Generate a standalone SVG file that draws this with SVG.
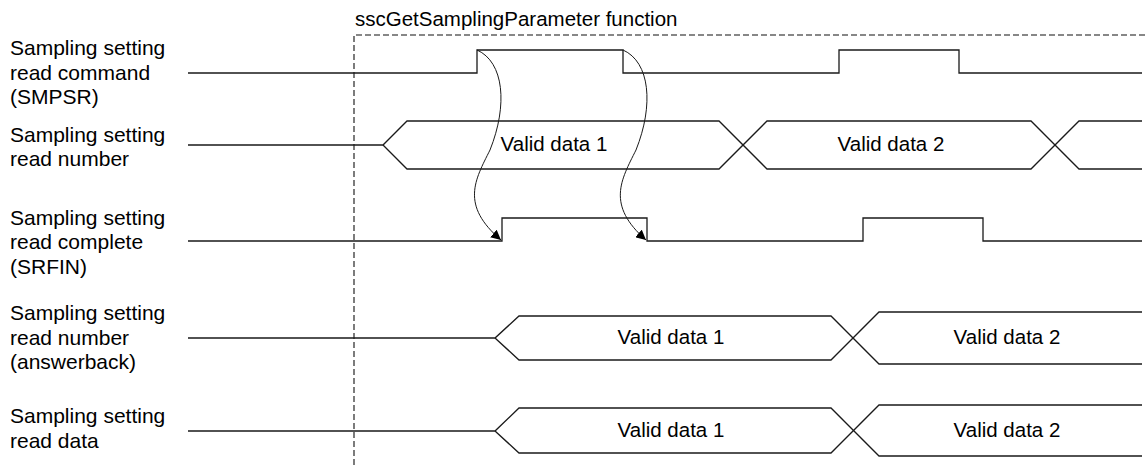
<svg xmlns="http://www.w3.org/2000/svg" width="1148" height="465" viewBox="0 0 1148 465">
<style>
text{font-family:"Liberation Sans",Arial,sans-serif;font-size:21px;fill:#000}
.d{font-size:20.5px}
.sig{fill:none;stroke:#1a1a1a;stroke-width:1.3}
.dash{fill:none;stroke:#111;stroke-width:1.1;stroke-dasharray:6 3}
.arr{fill:none;stroke:#1a1a1a;stroke-width:1}
</style>
<defs>
<marker id="ah" viewBox="0 0 10 10" refX="10" refY="5" markerWidth="10" markerHeight="10" markerUnits="userSpaceOnUse" orient="auto">
<path d="M0,0 L10,5 L0,10 z" fill="#000"/>
</marker>
</defs>
<g id="frame">
<text x="355" y="26" class="d">sscGetSamplingParameter function</text>
<path class="dash" d="M354,465 V35 H1146"/>
</g>
<g id="row1">
<text x="10" y="55">Sampling setting</text>
<text x="10" y="79.5">read command</text>
<text x="10" y="104">(SMPSR)</text>
<path class="sig" d="M188,73 H477 V50 H623 V73 H839 V50 H959 V73 H1142"/>
</g>
<g id="row2">
<text x="10" y="141.5">Sampling setting</text>
<text x="10" y="166">read number</text>
<path class="sig" d="M188,145 H383 L407,121 H719 L767,169 H1031 L1079,121 H1142"/>
<path class="sig" d="M383,145 L407,169 H719 L767,121 H1031 L1079,169 H1142"/>
<text x="554" y="151" class="d" text-anchor="middle">Valid data 1</text>
<text x="891" y="151" class="d" text-anchor="middle">Valid data 2</text>
</g>
<g id="row3">
<text x="10" y="224.5">Sampling setting</text>
<text x="10" y="249">read complete</text>
<text x="10" y="273.5">(SRFIN)</text>
<path class="sig" d="M188,241 H502 V218 H647 V241 H863 V218 H983 V241 H1142"/>
</g>
<g id="row4">
<text x="10" y="320">Sampling setting</text>
<text x="10" y="344.5">read number</text>
<text x="10" y="369">(answerback)</text>
<path class="sig" d="M188,338 H495 L519,316 H831 L879,364 H1142"/>
<path class="sig" d="M495,338 L519,360 H831 L879,312 H1142"/>
<text x="671" y="344" class="d" text-anchor="middle">Valid data 1</text>
<text x="1007" y="344" class="d" text-anchor="middle">Valid data 2</text>
</g>
<g id="row5">
<text x="10" y="423">Sampling setting</text>
<text x="10" y="447.5">read data</text>
<path class="sig" d="M188,431 H495 L519,408 H831 L879,456 H1142"/>
<path class="sig" d="M495,431 L519,453 H831 L879,405 H1142"/>
<text x="671" y="437" class="d" text-anchor="middle">Valid data 1</text>
<text x="1007" y="437" class="d" text-anchor="middle">Valid data 2</text>
</g>
<g id="connectors">
<path class="arr" marker-end="url(#ah)" d="M477,50 C504,62 508,105 490,150 C475,180 460,205 501,240"/>
<path class="arr" marker-end="url(#ah)" d="M623,50 C650,62 654,105 636,150 C621,180 606,205 646,240"/>
</g>
</svg>
